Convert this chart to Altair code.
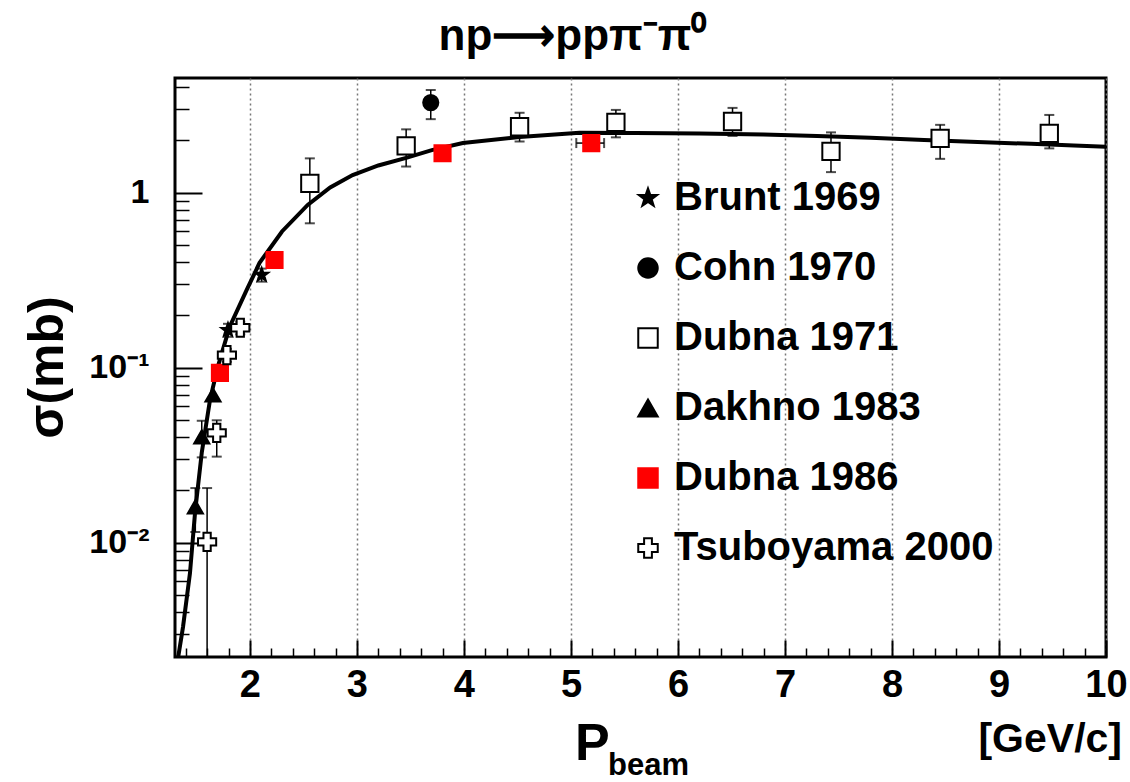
import altair as alt
import pandas as pd

# ---------------- data ----------------
series_names = ["Brunt 1969", "Cohn 1970", "Dubna 1971", "Dakhno 1983", "Dubna 1986", "Tsuboyama 2000"]

# fit curve
curve_p = [1.33, 1.375, 1.44, 1.487, 1.55, 1.627, 1.70, 1.81, 1.97, 2.09, 2.30, 2.54, 2.75,
           2.96, 3.20, 3.46, 3.70, 3.99, 4.52, 5.08, 5.60, 6.20, 6.80, 7.30, 7.80, 8.30, 8.80,
           9.30, 9.70, 10.0]
curve_sigma = [0.00222, 0.0033, 0.0067, 0.0148, 0.0326, 0.0654, 0.101, 0.171, 0.278, 0.397,
               0.60, 0.851, 1.07, 1.26, 1.43, 1.58, 1.75, 1.92, 2.08, 2.20, 2.19, 2.18, 2.15,
               2.11, 2.06, 2.00, 1.95, 1.90, 1.86, 1.83]

brunt_p = [1.795, 2.11]
brunt_s = [0.164, 0.339]
brunt_lo = [0.150, 0.310]
brunt_hi = [0.178, 0.368]

cohn_p = [3.69]
cohn_s = [3.27]
cohn_lo = [2.63]
cohn_hi = [3.86]

dubna71_p = [2.56, 3.46, 4.52, 5.42, 6.51, 7.43, 8.45, 9.47]
dubna71_s = [1.13, 1.85, 2.38, 2.52, 2.55, 1.72, 2.04, 2.18]
dubna71_lo = [0.668, 1.41, 1.96, 2.07, 2.11, 1.31, 1.56, 1.79]
dubna71_hi = [1.57, 2.30, 2.86, 2.97, 3.05, 2.21, 2.44, 2.78]

dakhno_p = [1.49, 1.55, 1.655]
dakhno_s = [0.016, 0.0402, 0.0698]
dakhno_lo = [0.0115, 0.0307, 0.0698]
dakhno_hi = [0.0205, 0.0497, 0.0698]

dubna86_p = [1.72, 2.23, 3.80, 5.19]
dubna86_s = [0.0933, 0.412, 1.68, 1.92]
dubna86_plo = [1.72, 2.23, 3.80, 5.05]
dubna86_phi = [1.72, 2.23, 3.80, 5.31]

tsub_p = [1.60, 1.69, 1.785, 1.91]
tsub_s = [0.0101, 0.0424, 0.118, 0.169]
tsub_lo = [0.00001, 0.031, 0.108, 0.155]
tsub_hi = [0.0205, 0.050, 0.128, 0.183]

x_major = [2, 3, 4, 5, 6, 7, 8, 9, 10]
x_minor = [round(1.4 + 0.2 * i, 1) for i in range(43)
           if abs((1.4 + 0.2 * i) - round(1.4 + 0.2 * i)) > 1e-6]
y_major = [0.01, 0.1, 1]
y_minor = [0.003, 0.004, 0.005, 0.006, 0.007, 0.008, 0.009,
           0.02, 0.03, 0.04, 0.05, 0.06, 0.07, 0.08, 0.09,
           0.2, 0.3, 0.4, 0.5, 0.6, 0.7, 0.8, 0.9, 2, 3, 4]

# ---------------- styling ----------------
star = ("M0,-1L0.235,-0.324L0.951,-0.309L0.380,0.124L0.588,0.809L0,0.4"
        "L-0.588,0.809L-0.380,0.124L-0.951,-0.309L-0.235,-0.324Z")
shapes = [star, "circle", "square", "triangle-up", "square", "cross"]
fills = ["black", "black", "white", "black", "#ff0000", "white"]
strokes = ["black", "black", "black", "black", "#ff0000", "black"]
sizes = [190, 230, 300, 230, 260, 330]

W, H = 931, 579
FONT = "Liberation Sans"

# ---------------- tables ----------------
curve = pd.DataFrame({"p": curve_p, "sigma": curve_sigma})

rows = []
def add(name, ps, ss, los=None, his=None, plos=None, phis=None):
    for i in range(len(ps)):
        rows.append({
            "series": name, "p": ps[i], "sigma": ss[i],
            "lo": los[i] if los else ss[i], "hi": his[i] if his else ss[i],
            "plo": plos[i] if plos else ps[i], "phi": phis[i] if phis else ps[i],
            "msize": sizes[series_names.index(name)],
        })

add("Brunt 1969", brunt_p, brunt_s, brunt_lo, brunt_hi)
add("Cohn 1970", cohn_p, cohn_s, cohn_lo, cohn_hi)
add("Dubna 1971", dubna71_p, dubna71_s, dubna71_lo, dubna71_hi)
add("Dakhno 1983", dakhno_p, dakhno_s, dakhno_lo, dakhno_hi)
add("Dubna 1986", dubna86_p, dubna86_s, None, None, dubna86_plo, dubna86_phi)
add("Tsuboyama 2000", tsub_p, tsub_s, tsub_lo, tsub_hi)
pts = pd.DataFrame(rows)
yerr = pts[pts["lo"] < pts["hi"]].copy()
xerr = pts[pts["plo"] < pts["phi"]].copy()
ycaps = pd.concat([yerr.assign(c=yerr["lo"]), yerr.assign(c=yerr["hi"])])
xcaps = pd.concat([xerr.assign(c=xerr["plo"]), xerr.assign(c=xerr["phi"])])

xscale = alt.Scale(domain=[1.3, 10.0], nice=False, zero=False)
yscale = alt.Scale(type="log", domain=[0.00222, 4.52], nice=False)

# axes
ax_x_labels = alt.Axis(orient="bottom", values=x_major, ticks=False, domain=False,
                       labelFont=FONT, labelFontSize=38, labelFontWeight="bold",
                       labelColor="black", labelPadding=9, labelFlush=False,
                       grid=True, gridDash=[2, 3], gridColor="#777777", gridWidth=1.5,
                       title=None)
ax_y_labels = alt.Axis(orient="left", values=y_major, ticks=False, domain=False, grid=False,
                       labelExpr="datum.value >= 0.5 ? '1' : (datum.value >= 0.05 ? '10⁻¹' : '10⁻²')",
                       labelFont=FONT, labelFontSize=34, labelFontWeight="bold",
                       labelColor="black", labelPadding=26,
                       title="σ(mb)", titleFont=FONT, titleFontSize=50, titleFontWeight="bold",
                       titleColor="black", titleAngle=270, titleX=-128, titleY=289,
                       titleAlign="center", titleBaseline="middle")
ax_x_major = alt.Axis(orient="top", offset=-H, values=x_major, labels=False, domain=False,
                      grid=False, ticks=True, tickSize=17, tickWidth=2, tickColor="black", title=None)
ax_y_major = alt.Axis(orient="right", offset=-W, values=y_major, labels=False, domain=False,
                      grid=False, ticks=True, tickSize=27, tickWidth=2, tickColor="black", title=None)
ax_x_minor = alt.Axis(orient="top", offset=-H, values=x_minor, labels=False, domain=False,
                      grid=False, ticks=True, tickSize=9, tickWidth=1.5, tickColor="black", title=None)
ax_y_minor = alt.Axis(orient="right", offset=-W, values=y_minor, labels=False, domain=False,
                      grid=False, ticks=True, tickSize=14, tickWidth=1.5, tickColor="black", title=None)

line = alt.Chart(curve).mark_line(color="black", strokeWidth=4, clip=True).encode(
    x=alt.X("p:Q", scale=xscale, axis=ax_x_labels),
    y=alt.Y("sigma:Q", scale=yscale, axis=ax_y_labels),
)

vrules = alt.Chart(yerr).mark_rule(color="black", strokeWidth=1.5, clip=True).encode(
    x=alt.X("p:Q", scale=xscale, axis=ax_x_major),
    y=alt.Y("lo:Q", scale=yscale, axis=ax_y_major),
    y2="hi:Q",
)
hrules = alt.Chart(xerr).mark_rule(color="black", strokeWidth=1.5, clip=True).encode(
    x=alt.X("plo:Q", scale=xscale, axis=ax_x_minor),
    x2="phi:Q",
    y=alt.Y("sigma:Q", scale=yscale, axis=ax_y_minor),
)
ycap = alt.Chart(ycaps).mark_tick(color="black", orient="horizontal", size=10, thickness=2,
                                  clip=True).encode(
    x=alt.X("p:Q", scale=xscale, axis=None),
    y=alt.Y("c:Q", scale=yscale, axis=None),
)
xcap = alt.Chart(xcaps).mark_tick(color="black", orient="vertical", size=10, thickness=2,
                                  clip=True).encode(
    x=alt.X("c:Q", scale=xscale, axis=None),
    y=alt.Y("sigma:Q", scale=yscale, axis=None),
)

leg = alt.Legend(orient="none", legendX=453, legendY=100, title=None, padding=0,
                 labelFont=FONT, labelFontSize=40, labelFontWeight="bold", labelColor="black",
                 labelLimit=500, labelOffset=6, symbolSize=380, symbolStrokeWidth=2,
                 rowPadding=30)
points = alt.Chart(pts).mark_point(strokeWidth=2, opacity=1, clip=True).encode(
    x=alt.X("p:Q", scale=xscale, axis=None),
    y=alt.Y("sigma:Q", scale=yscale, axis=None),
    shape=alt.Shape("series:N", scale=alt.Scale(domain=series_names, range=shapes), legend=leg),
    fill=alt.Fill("series:N", scale=alt.Scale(domain=series_names, range=fills), legend=leg),
    stroke=alt.Stroke("series:N", scale=alt.Scale(domain=series_names, range=strokes), legend=leg),
    size=alt.Size("msize:Q", scale=None),
)

one = curve.iloc[:1]
t_p = alt.Chart(one).mark_text(text="P", font=FONT, fontSize=52, fontWeight="bold",
                               align="left", baseline="alphabetic", color="black").encode(
    x=alt.value(575 - 175), y=alt.value(760 - 78))
t_beam = alt.Chart(one).mark_text(text="beam", font=FONT, fontSize=31, fontWeight="bold",
                                  align="left", baseline="alphabetic", color="black").encode(
    x=alt.value(608 - 175), y=alt.value(775 - 78))
t_unit = alt.Chart(one).mark_text(text="[GeV/c]", font=FONT, fontSize=41, fontWeight="bold",
                                  align="right", baseline="alphabetic", color="black").encode(
    x=alt.value(1122 - 175), y=alt.value(752 - 78))

chart = alt.layer(line, vrules, hrules, ycap, xcap, points, t_p, t_beam, t_unit).resolve_axis(
    x="independent", y="independent"
).properties(
    width=W, height=H,
    title=alt.TitleParams(text="np⟶ppπ⁻π⁰", font=FONT, fontSize=44, fontWeight="bold",
                          anchor="middle", dx=-68, offset=19, color="black"),
    padding={"left": 175, "top": 78, "right": 24, "bottom": 125},
    autosize=alt.AutoSizeParams(type="none"),
    background="white",
).configure_view(stroke="black", strokeWidth=3)

chart.save("out.html", embed_options={"renderer": "svg", "actions": False})
